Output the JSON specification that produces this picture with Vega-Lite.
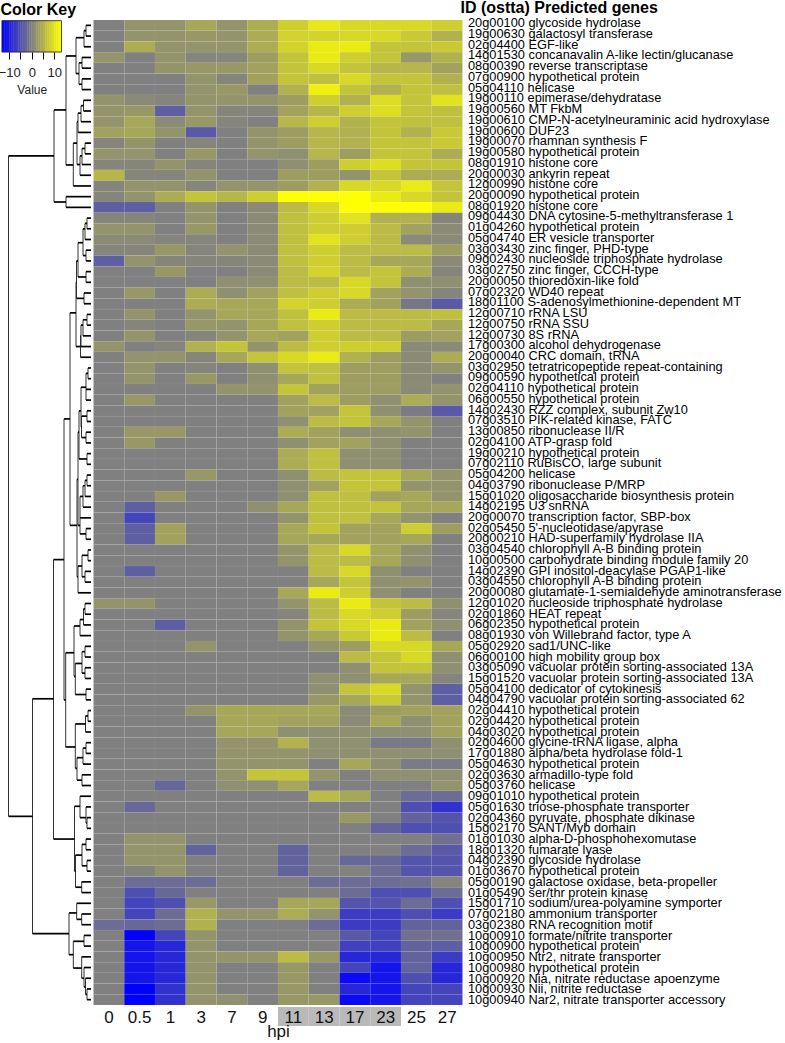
{"$schema":"https://vega.github.io/schema/vega-lite/v6.json","width":785,"height":1043,"padding":0,"autosize":{"type":"none"},"background":"white",
"config":{"font":"Liberation Sans","view":{"stroke":null}},
"datasets":{
"key":[{"a":-13.2,"b":-12,"v":-12.5},{"a":-12,"b":-11,"v":-11.5},{"a":-11,"b":-10,"v":-10.5},{"a":-10,"b":-9,"v":-9.5},{"a":-9,"b":-8,"v":-8.5},{"a":-8,"b":-7,"v":-7.5},{"a":-7,"b":-6,"v":-6.5},{"a":-6,"b":-5,"v":-5.5},{"a":-5,"b":-4,"v":-4.5},{"a":-4,"b":-3,"v":-3.5},{"a":-3,"b":-2,"v":-2.5},{"a":-2,"b":-1,"v":-1.5},{"a":-1,"b":0,"v":-0.5},{"a":0,"b":1,"v":0.5},{"a":1,"b":2,"v":1.5},{"a":2,"b":3,"v":2.5},{"a":3,"b":4,"v":3.5},{"a":4,"b":5,"v":4.5},{"a":5,"b":6,"v":5.5},{"a":6,"b":7,"v":6.5},{"a":7,"b":8,"v":7.5},{"a":8,"b":9,"v":8.5},{"a":9,"b":10,"v":9.5},{"a":10,"b":11,"v":10.5},{"a":11,"b":12,"v":11.5},{"a":12,"b":13.2,"v":12.5}],
"keyframe":[{"a":-13.2,"b":13.2}],
"hours":[{"h":"11"},{"h":"13"},{"h":"17"},{"h":"23"}],
"genes":[{"c":"genes","t":"20g00100 glycoside hydrolase"},{"c":"genes","t":"19g00630 galactosyl transferase"},{"c":"genes","t":"02g04400 EGF-like"},{"c":"genes","t":"14g01530 concanavalin A-like lectin/glucanase"},{"c":"genes","t":"08g00390 reverse transcriptase"},{"c":"genes","t":"07g00900 hypothetical protein"},{"c":"genes","t":"05g04110 helicase"},{"c":"genes","t":"19g00110 epimerase/dehydratase"},{"c":"genes","t":"19g00560 MT FkbM"},{"c":"genes","t":"19g00610 CMP-N-acetylneuraminic acid hydroxylase"},{"c":"genes","t":"19g00600 DUF23"},{"c":"genes","t":"19g00070 rhamnan synthesis F"},{"c":"genes","t":"19g00580 hypothetical protein"},{"c":"genes","t":"08g01910 histone core"},{"c":"genes","t":"20g00030 ankyrin repeat"},{"c":"genes","t":"12g00990 histone core"},{"c":"genes","t":"20g00090 hypothetical protein"},{"c":"genes","t":"08g01920 histone core"},{"c":"genes","t":"09g04430 DNA cytosine-5-methyltransferase 1"},{"c":"genes","t":"01g04260 hypothetical protein"},{"c":"genes","t":"05g04740 ER vesicle transporter"},{"c":"genes","t":"03g03430 zinc finger, PHD-type"},{"c":"genes","t":"09g02430 nucleoside triphosphate hydrolase"},{"c":"genes","t":"03g02750 zinc finger, CCCH-type"},{"c":"genes","t":"20g00050 thioredoxin-like fold"},{"c":"genes","t":"07g02320 WD40 repeat"},{"c":"genes","t":"18g01100 S-adenosylmethionine-dependent MT"},{"c":"genes","t":"12g00710 rRNA LSU"},{"c":"genes","t":"12g00750 rRNA SSU"},{"c":"genes","t":"12g00730 8S rRNA"},{"c":"genes","t":"17g00300 alcohol dehydrogenase"},{"c":"genes","t":"20g00040 CRC domain, tRNA"},{"c":"genes","t":"03g02950 tetratricopeptide repeat-containing"},{"c":"genes","t":"09g00590 hypothetical protein"},{"c":"genes","t":"02g04110 hypothetical protein"},{"c":"genes","t":"06g00550 hypothetical protein"},{"c":"genes","t":"14g02430 RZZ complex, subunit Zw10"},{"c":"genes","t":"07g03510 PIK-related kinase, FATC"},{"c":"genes","t":"13g00850 ribonuclease II/R"},{"c":"genes","t":"02g04100 ATP-grasp fold"},{"c":"genes","t":"19g00210 hypothetical protein"},{"c":"genes","t":"07g02110 RuBisCO, large subunit"},{"c":"genes","t":"05g04200 helicase"},{"c":"genes","t":"04g03790 ribonuclease P/MRP"},{"c":"genes","t":"15g01020 oligosaccharide biosynthesis protein"},{"c":"genes","t":"14g02195 U3 snRNA"},{"c":"genes","t":"20g00070 transcription factor, SBP-box"},{"c":"genes","t":"02g05450 5'-nucleotidase/apyrase"},{"c":"genes","t":"20g00210 HAD-superfamily hydrolase IIA"},{"c":"genes","t":"03g04540 chlorophyll A-B binding protein"},{"c":"genes","t":"10g00500 carbohydrate binding module family 20"},{"c":"genes","t":"14g02390 GPI inositol-deacylase PGAP1-like"},{"c":"genes","t":"03g04550 chlorophyll A-B binding protein"},{"c":"genes","t":"20g00080 glutamate-1-semialdehyde aminotransferase"},{"c":"genes","t":"12g01020 nucleoside triphosphate hydrolase"},{"c":"genes","t":"02g01860 HEAT repeat"},{"c":"genes","t":"06g02350 hypothetical protein"},{"c":"genes","t":"08g01930 von Willebrand factor, type A"},{"c":"genes","t":"05g02920 sad1/UNC-like"},{"c":"genes","t":"06g00100 high mobility group box"},{"c":"genes","t":"03g05090 vacuolar protein sorting-associated 13A"},{"c":"genes","t":"15g01520 vacuolar protein sorting-associated 13A"},{"c":"genes","t":"05g04100 dedicator of cytokinesis"},{"c":"genes","t":"04g04790 vacuolar protein sorting-associated 62"},{"c":"genes","t":"02g04410 hypothetical protein"},{"c":"genes","t":"02g04420 hypothetical protein"},{"c":"genes","t":"04g03020 hypothetical protein"},{"c":"genes","t":"02g04600 glycine-tRNA ligase, alpha"},{"c":"genes","t":"17g01880 alpha/beta hydrolase fold-1"},{"c":"genes","t":"05g04630 hypothetical protein"},{"c":"genes","t":"02g03630 armadillo-type fold"},{"c":"genes","t":"05g03760 helicase"},{"c":"genes","t":"09g01010 hypothetical protein"},{"c":"genes","t":"05g01630 triose-phosphate transporter"},{"c":"genes","t":"02g04360 pyruvate, phosphate dikinase"},{"c":"genes","t":"15g02170 SANT/Myb domain"},{"c":"genes","t":"01g01030 alpha-D-phosphohexomutase"},{"c":"genes","t":"18g01320 fumarate lyase"},{"c":"genes","t":"04g02390 glycoside hydrolase"},{"c":"genes","t":"01g03670 hypothetical protein"},{"c":"genes","t":"05g00190 galactose oxidase, beta-propeller"},{"c":"genes","t":"01g05490 ser/thr protein kinase"},{"c":"genes","t":"15g01710 sodium/urea-polyamine symporter"},{"c":"genes","t":"07g02180 ammonium transporter"},{"c":"genes","t":"03g02380 RNA recognition motif"},{"c":"genes","t":"10g00910 formate/nitrite transporter"},{"c":"genes","t":"10g00900 hypothetical protein"},{"c":"genes","t":"10g00950 Ntr2, nitrate transporter"},{"c":"genes","t":"10g00980 hypothetical protein"},{"c":"genes","t":"10g00920 Nia, nitrate reductase apoenzyme"},{"c":"genes","t":"10g00930 Nii, nitrite reductase"},{"c":"genes","t":"10g00940 Nar2, nitrate transporter accessory"}],
"vertical":[{"d":86,"a":1,"b":2},{"d":84,"a":1.5,"b":3},{"d":82,"a":4,"b":5},{"d":82,"a":6,"b":7},{"d":79,"a":4.5,"b":6.5},{"d":76,"a":2.15,"b":5.5},{"d":83.5,"a":8,"b":9},{"d":81,"a":8.5,"b":10},{"d":78,"a":9.2,"b":11},{"d":85,"a":12,"b":13},{"d":82,"a":12.5,"b":14},{"d":80,"a":13.2,"b":15},{"d":77,"a":10,"b":14},{"d":73.3,"a":12,"b":16},{"d":66,"a":3.86,"b":14.04},{"d":66,"a":17,"b":18},{"d":54,"a":8.9,"b":17.5},{"d":8.5,"a":13.2,"b":74.88},{"d":32.5,"a":63.9,"b":85.84},{"d":53.5,"a":50.9,"b":77},{"d":64,"a":37.76,"b":64},{"d":70,"a":27.85,"b":47.7},{"d":76,"a":25,"b":31},{"d":76.5,"a":23,"b":26.5},{"d":78,"a":21.3,"b":24.5},{"d":83,"a":20,"b":22.5},{"d":85,"a":19.5,"b":21},{"d":87,"a":19,"b":20},{"d":86,"a":22,"b":23},{"d":86,"a":24,"b":25},{"d":84,"a":26,"b":27},{"d":80.5,"a":30,"b":32},{"d":81,"a":29,"b":31},{"d":83,"a":28.5,"b":30},{"d":87,"a":28,"b":29},{"d":77,"a":43.4,"b":52.5},{"d":78,"a":39,"b":47.7},{"d":79,"a":37,"b":41.5},{"d":87,"a":41,"b":42},{"d":81,"a":34.8,"b":38.5},{"d":81.5,"a":37.5,"b":39.5},{"d":87,"a":37,"b":38},{"d":86,"a":39,"b":40},{"d":88,"a":33,"b":34},{"d":86,"a":33.5,"b":36},{"d":80,"a":45,"b":48.5},{"d":83,"a":44,"b":46},{"d":85,"a":43.5,"b":45},{"d":87,"a":43,"b":44},{"d":86,"a":48,"b":49},{"d":78,"a":51.5,"b":54},{"d":82,"a":50.5,"b":52.5},{"d":88,"a":50,"b":51},{"d":85,"a":52,"b":53},{"d":80,"a":56.5,"b":58},{"d":83.5,"a":55.5,"b":57},{"d":85,"a":55,"b":56},{"d":74,"a":57.1,"b":61.8},{"d":75.3,"a":60.6,"b":63.5},{"d":82,"a":59.5,"b":61.5},{"d":85,"a":59,"b":60},{"d":85,"a":61,"b":62},{"d":86,"a":63,"b":64},{"d":65.7,"a":59.6,"b":68.4},{"d":75.3,"a":66.25,"b":70.4},{"d":85.5,"a":65.5,"b":67},{"d":88,"a":65,"b":66},{"d":77,"a":69.4,"b":71.5},{"d":83,"a":68.5,"b":70},{"d":86,"a":68,"b":69},{"d":82,"a":71,"b":72},{"d":74.5,"a":73.94,"b":80},{"d":80,"a":73,"b":75},{"d":86,"a":74,"b":75.5},{"d":87,"a":75,"b":76},{"d":75.5,"a":78.5,"b":81.5},{"d":82,"a":77.5,"b":79.5},{"d":86,"a":77,"b":78},{"d":87,"a":79,"b":80},{"d":81.7,"a":81,"b":82},{"d":69,"a":83.9,"b":87.8},{"d":76.7,"a":83,"b":84.5},{"d":81.7,"a":84,"b":85},{"d":73.3,"a":86.55,"b":89.05},{"d":84,"a":86,"b":87},{"d":81.7,"a":88,"b":90},{"d":84,"a":89,"b":90.8},{"d":85.5,"a":90,"b":91.5},{"d":87,"a":91,"b":92}],
"horizontal":[{"a":84,"b":86,"r":1.5},{"a":76,"b":84,"r":2.15},{"a":79,"b":82,"r":4.5},{"a":79,"b":82,"r":6.5},{"a":76,"b":79,"r":5.5},{"a":66,"b":76,"r":3.86},{"a":81,"b":83.5,"r":8.5},{"a":78,"b":81,"r":9.2},{"a":77,"b":78,"r":10},{"a":82,"b":85,"r":12.5},{"a":80,"b":82,"r":13.2},{"a":77,"b":80,"r":14},{"a":73.3,"b":77,"r":12},{"a":66,"b":73.3,"r":14.04},{"a":54,"b":66,"r":8.9},{"a":54,"b":66,"r":17.5},{"a":8.5,"b":54,"r":13.2},{"a":8.5,"b":32.5,"r":74.88},{"a":32.5,"b":53.5,"r":63.9},{"a":32.5,"b":69,"r":85.84},{"a":53.5,"b":64,"r":50.9},{"a":53.5,"b":74.5,"r":77},{"a":64,"b":70,"r":37.76},{"a":64,"b":65.7,"r":64},{"a":70,"b":76,"r":27.85},{"a":70,"b":77,"r":47.7},{"a":76,"b":76.5,"r":25},{"a":76,"b":80.5,"r":31},{"a":76.5,"b":78,"r":23},{"a":76.5,"b":84,"r":26.5},{"a":78,"b":83,"r":21.3},{"a":78,"b":86,"r":24.5},{"a":83,"b":85,"r":20},{"a":83,"b":86,"r":22.5},{"a":85,"b":87,"r":19.5},{"a":80.5,"b":81,"r":30},{"a":81,"b":83,"r":29},{"a":83,"b":87,"r":28.5},{"a":77,"b":78,"r":43.4},{"a":77,"b":78,"r":52.5},{"a":78,"b":79,"r":39},{"a":78,"b":80,"r":47.7},{"a":79,"b":81,"r":37},{"a":79,"b":87,"r":41.5},{"a":81,"b":86,"r":34.8},{"a":81,"b":81.5,"r":38.5},{"a":81.5,"b":87,"r":37.5},{"a":81.5,"b":86,"r":39.5},{"a":86,"b":88,"r":33.5},{"a":80,"b":83,"r":45},{"a":80,"b":86,"r":48.5},{"a":83,"b":85,"r":44},{"a":85,"b":87,"r":43.5},{"a":78,"b":82,"r":51.5},{"a":82,"b":88,"r":50.5},{"a":82,"b":85,"r":52.5},{"a":80,"b":83.5,"r":56.5},{"a":83.5,"b":85,"r":55.5},{"a":74,"b":80,"r":57.1},{"a":74,"b":75.3,"r":61.8},{"a":75.3,"b":82,"r":60.6},{"a":75.3,"b":86,"r":63.5},{"a":82,"b":85,"r":59.5},{"a":82,"b":85,"r":61.5},{"a":65.7,"b":74,"r":59.6},{"a":65.7,"b":75.3,"r":68.4},{"a":75.3,"b":85.5,"r":66.25},{"a":75.3,"b":77,"r":70.4},{"a":85.5,"b":88,"r":65.5},{"a":77,"b":83,"r":69.4},{"a":77,"b":82,"r":71.5},{"a":83,"b":86,"r":68.5},{"a":74.5,"b":80,"r":73.94},{"a":74.5,"b":75.5,"r":80},{"a":80,"b":86,"r":75},{"a":86,"b":87,"r":75.5},{"a":75.5,"b":82,"r":78.5},{"a":75.5,"b":81.7,"r":81.5},{"a":82,"b":86,"r":77.5},{"a":82,"b":87,"r":79.5},{"a":69,"b":76.7,"r":83.9},{"a":69,"b":73.3,"r":87.8},{"a":76.7,"b":81.7,"r":84.5},{"a":73.3,"b":84,"r":86.55},{"a":73.3,"b":81.7,"r":89.05},{"a":81.7,"b":84,"r":90},{"a":84,"b":85.5,"r":90.8},{"a":85.5,"b":87,"r":91.5},
{"a":86,"b":91,"r":1},{"a":86,"b":91,"r":2},{"a":84,"b":91,"r":3},{"a":82,"b":91,"r":4},{"a":82,"b":91,"r":5},{"a":82,"b":91,"r":6},{"a":82,"b":91,"r":7},{"a":83.5,"b":91,"r":8},{"a":83.5,"b":91,"r":9},{"a":81,"b":91,"r":10},{"a":78,"b":91,"r":11},{"a":85,"b":91,"r":12},{"a":85,"b":91,"r":13},{"a":82,"b":91,"r":14},{"a":80,"b":91,"r":15},{"a":73.3,"b":91,"r":16},{"a":66,"b":91,"r":17},{"a":66,"b":91,"r":18},{"a":87,"b":91,"r":19},{"a":87,"b":91,"r":20},{"a":85,"b":91,"r":21},{"a":86,"b":91,"r":22},{"a":86,"b":91,"r":23},{"a":86,"b":91,"r":24},{"a":86,"b":91,"r":25},{"a":84,"b":91,"r":26},{"a":84,"b":91,"r":27},{"a":87,"b":91,"r":28},{"a":87,"b":91,"r":29},{"a":83,"b":91,"r":30},{"a":81,"b":91,"r":31},{"a":80.5,"b":91,"r":32},{"a":88,"b":91,"r":33},{"a":88,"b":91,"r":34},{"a":86,"b":91,"r":35},{"a":86,"b":91,"r":36},{"a":87,"b":91,"r":37},{"a":87,"b":91,"r":38},{"a":86,"b":91,"r":39},{"a":86,"b":91,"r":40},{"a":87,"b":91,"r":41},{"a":87,"b":91,"r":42},{"a":87,"b":91,"r":43},{"a":87,"b":91,"r":44},{"a":85,"b":91,"r":45},{"a":83,"b":91,"r":46},{"a":80,"b":91,"r":47},{"a":86,"b":91,"r":48},{"a":86,"b":91,"r":49},{"a":88,"b":91,"r":50},{"a":88,"b":91,"r":51},{"a":85,"b":91,"r":52},{"a":85,"b":91,"r":53},{"a":78,"b":91,"r":54},{"a":85,"b":91,"r":55},{"a":85,"b":91,"r":56},{"a":83.5,"b":91,"r":57},{"a":80,"b":91,"r":58},{"a":85,"b":91,"r":59},{"a":85,"b":91,"r":60},{"a":85,"b":91,"r":61},{"a":85,"b":91,"r":62},{"a":86,"b":91,"r":63},{"a":86,"b":91,"r":64},{"a":88,"b":91,"r":65},{"a":88,"b":91,"r":66},{"a":85.5,"b":91,"r":67},{"a":86,"b":91,"r":68},{"a":86,"b":91,"r":69},{"a":83,"b":91,"r":70},{"a":82,"b":91,"r":71},{"a":82,"b":91,"r":72},{"a":80,"b":91,"r":73},{"a":86,"b":91,"r":74},{"a":87,"b":91,"r":75},{"a":87,"b":91,"r":76},{"a":86,"b":91,"r":77},{"a":86,"b":91,"r":78},{"a":87,"b":91,"r":79},{"a":87,"b":91,"r":80},{"a":81.7,"b":91,"r":81},{"a":81.7,"b":91,"r":82},{"a":76.7,"b":91,"r":83},{"a":81.7,"b":91,"r":84},{"a":81.7,"b":91,"r":85},{"a":84,"b":91,"r":86},{"a":84,"b":91,"r":87},{"a":81.7,"b":91,"r":88},{"a":84,"b":91,"r":89},{"a":85.5,"b":91,"r":90},{"a":87,"b":91,"r":91},{"a":87,"b":91,"r":92}],
"cells":[
{"r":1,"h":"0","v":0},{"r":1,"h":"0.5","v":2},{"r":1,"h":"1","v":2},{"r":1,"h":"3","v":4},{"r":1,"h":"7","v":2},{"r":1,"h":"9","v":4.5},{"r":1,"h":"11","v":8},{"r":1,"h":"13","v":10.5},{"r":1,"h":"17","v":9},{"r":1,"h":"23","v":9},{"r":1,"h":"25","v":9},{"r":1,"h":"27","v":8},
{"r":2,"h":"0","v":0},{"r":2,"h":"0.5","v":2},{"r":2,"h":"1","v":2},{"r":2,"h":"3","v":2.5},{"r":2,"h":"7","v":2},{"r":2,"h":"9","v":4.5},{"r":2,"h":"11","v":8.5},{"r":2,"h":"13","v":8.5},{"r":2,"h":"17","v":9},{"r":2,"h":"23","v":9},{"r":2,"h":"25","v":7.5},{"r":2,"h":"27","v":5},
{"r":3,"h":"0","v":0},{"r":3,"h":"0.5","v":4.5},{"r":3,"h":"1","v":2},{"r":3,"h":"3","v":2},{"r":3,"h":"7","v":2},{"r":3,"h":"9","v":4.5},{"r":3,"h":"11","v":8.5},{"r":3,"h":"13","v":11},{"r":3,"h":"17","v":11},{"r":3,"h":"23","v":7},{"r":3,"h":"25","v":7},{"r":3,"h":"27","v":7.5},
{"r":4,"h":"0","v":2},{"r":4,"h":"0.5","v":0},{"r":4,"h":"1","v":2},{"r":4,"h":"3","v":0.5},{"r":4,"h":"7","v":0.5},{"r":4,"h":"9","v":3},{"r":4,"h":"11","v":7},{"r":4,"h":"13","v":11},{"r":4,"h":"17","v":8},{"r":4,"h":"23","v":7},{"r":4,"h":"25","v":2.5},{"r":4,"h":"27","v":5},
{"r":5,"h":"0","v":0},{"r":5,"h":"0.5","v":0},{"r":5,"h":"1","v":2},{"r":5,"h":"3","v":2.5},{"r":5,"h":"7","v":2.5},{"r":5,"h":"9","v":3.5},{"r":5,"h":"11","v":7},{"r":5,"h":"13","v":9},{"r":5,"h":"17","v":7},{"r":5,"h":"23","v":5.5},{"r":5,"h":"25","v":5.5},{"r":5,"h":"27","v":3.5},
{"r":6,"h":"0","v":0},{"r":6,"h":"0.5","v":0},{"r":6,"h":"1","v":0},{"r":6,"h":"3","v":2},{"r":6,"h":"7","v":0.5},{"r":6,"h":"9","v":3.5},{"r":6,"h":"11","v":7},{"r":6,"h":"13","v":6.5},{"r":6,"h":"17","v":9},{"r":6,"h":"23","v":7},{"r":6,"h":"25","v":7},{"r":6,"h":"27","v":5},
{"r":7,"h":"0","v":0},{"r":7,"h":"0.5","v":0},{"r":7,"h":"1","v":0},{"r":7,"h":"3","v":2},{"r":7,"h":"7","v":2.5},{"r":7,"h":"9","v":0},{"r":7,"h":"11","v":5},{"r":7,"h":"13","v":11.5},{"r":7,"h":"17","v":7},{"r":7,"h":"23","v":5},{"r":7,"h":"25","v":7},{"r":7,"h":"27","v":6.5},
{"r":8,"h":"0","v":2},{"r":8,"h":"0.5","v":1},{"r":8,"h":"1","v":0.5},{"r":8,"h":"3","v":2},{"r":8,"h":"7","v":2},{"r":8,"h":"9","v":2},{"r":8,"h":"11","v":3},{"r":8,"h":"13","v":8},{"r":8,"h":"17","v":5},{"r":8,"h":"23","v":9.5},{"r":8,"h":"25","v":7},{"r":8,"h":"27","v":10},
{"r":9,"h":"0","v":2},{"r":9,"h":"0.5","v":2.5},{"r":9,"h":"1","v":-3.5},{"r":9,"h":"3","v":2},{"r":9,"h":"7","v":0.5},{"r":9,"h":"9","v":0.5},{"r":9,"h":"11","v":3.5},{"r":9,"h":"13","v":5.5},{"r":9,"h":"17","v":8},{"r":9,"h":"23","v":9.5},{"r":9,"h":"25","v":7},{"r":9,"h":"27","v":6.5},
{"r":10,"h":"0","v":2},{"r":10,"h":"0.5","v":4},{"r":10,"h":"1","v":1},{"r":10,"h":"3","v":2.5},{"r":10,"h":"7","v":0.5},{"r":10,"h":"9","v":0},{"r":10,"h":"11","v":5.5},{"r":10,"h":"13","v":8},{"r":10,"h":"17","v":5},{"r":10,"h":"23","v":7},{"r":10,"h":"25","v":6.5},{"r":10,"h":"27","v":6.5},
{"r":11,"h":"0","v":3.5},{"r":11,"h":"0.5","v":4},{"r":11,"h":"1","v":2},{"r":11,"h":"3","v":-4},{"r":11,"h":"7","v":0},{"r":11,"h":"9","v":2},{"r":11,"h":"11","v":3},{"r":11,"h":"13","v":5.5},{"r":11,"h":"17","v":5},{"r":11,"h":"23","v":7},{"r":11,"h":"25","v":5},{"r":11,"h":"27","v":7.5},
{"r":12,"h":"0","v":0.5},{"r":12,"h":"0.5","v":2},{"r":12,"h":"1","v":0},{"r":12,"h":"3","v":0.5},{"r":12,"h":"7","v":0},{"r":12,"h":"9","v":2},{"r":12,"h":"11","v":3},{"r":12,"h":"13","v":5.5},{"r":12,"h":"17","v":5},{"r":12,"h":"23","v":7},{"r":12,"h":"25","v":7},{"r":12,"h":"27","v":7.5},
{"r":13,"h":"0","v":2},{"r":13,"h":"0.5","v":2},{"r":13,"h":"1","v":0},{"r":13,"h":"3","v":2.5},{"r":13,"h":"7","v":0},{"r":13,"h":"9","v":2},{"r":13,"h":"11","v":1.5},{"r":13,"h":"13","v":5.5},{"r":13,"h":"17","v":3},{"r":13,"h":"23","v":7},{"r":13,"h":"25","v":7},{"r":13,"h":"27","v":4.5},
{"r":14,"h":"0","v":0.5},{"r":14,"h":"0.5","v":0.5},{"r":14,"h":"1","v":2},{"r":14,"h":"3","v":0.5},{"r":14,"h":"7","v":0},{"r":14,"h":"9","v":0},{"r":14,"h":"11","v":1.5},{"r":14,"h":"13","v":3},{"r":14,"h":"17","v":8},{"r":14,"h":"23","v":9.5},{"r":14,"h":"25","v":7},{"r":14,"h":"27","v":7},
{"r":15,"h":"0","v":5.5},{"r":15,"h":"0.5","v":0.5},{"r":15,"h":"1","v":0.5},{"r":15,"h":"3","v":2},{"r":15,"h":"7","v":0},{"r":15,"h":"9","v":0},{"r":15,"h":"11","v":3},{"r":15,"h":"13","v":3},{"r":15,"h":"17","v":2},{"r":15,"h":"23","v":7},{"r":15,"h":"25","v":4.5},{"r":15,"h":"27","v":4.5},
{"r":16,"h":"0","v":0.5},{"r":16,"h":"0.5","v":2},{"r":16,"h":"1","v":2},{"r":16,"h":"3","v":0.5},{"r":16,"h":"7","v":2},{"r":16,"h":"9","v":2},{"r":16,"h":"11","v":3},{"r":16,"h":"13","v":5},{"r":16,"h":"17","v":9},{"r":16,"h":"23","v":9},{"r":16,"h":"25","v":11},{"r":16,"h":"27","v":7},
{"r":17,"h":"0","v":0.5},{"r":17,"h":"0.5","v":2},{"r":17,"h":"1","v":4.5},{"r":17,"h":"3","v":7},{"r":17,"h":"7","v":5.5},{"r":17,"h":"9","v":8},{"r":17,"h":"11","v":13},{"r":17,"h":"13","v":13},{"r":17,"h":"17","v":13},{"r":17,"h":"23","v":11},{"r":17,"h":"25","v":9},{"r":17,"h":"27","v":7},
{"r":18,"h":"0","v":-3.5},{"r":18,"h":"0.5","v":-3.5},{"r":18,"h":"1","v":0},{"r":18,"h":"3","v":2},{"r":18,"h":"7","v":0},{"r":18,"h":"9","v":1},{"r":18,"h":"11","v":6},{"r":18,"h":"13","v":9},{"r":18,"h":"17","v":13},{"r":18,"h":"23","v":13},{"r":18,"h":"25","v":13},{"r":18,"h":"27","v":11},
{"r":19,"h":"0","v":0.5},{"r":19,"h":"0.5","v":0.5},{"r":19,"h":"1","v":0},{"r":19,"h":"3","v":2},{"r":19,"h":"7","v":0},{"r":19,"h":"9","v":1},{"r":19,"h":"11","v":6.5},{"r":19,"h":"13","v":8},{"r":19,"h":"17","v":10},{"r":19,"h":"23","v":5},{"r":19,"h":"25","v":5},{"r":19,"h":"27","v":0.5},
{"r":20,"h":"0","v":2},{"r":20,"h":"0.5","v":2},{"r":20,"h":"1","v":0},{"r":20,"h":"3","v":2.5},{"r":20,"h":"7","v":0},{"r":20,"h":"9","v":1},{"r":20,"h":"11","v":6.5},{"r":20,"h":"13","v":8},{"r":20,"h":"17","v":8},{"r":20,"h":"23","v":6},{"r":20,"h":"25","v":3.5},{"r":20,"h":"27","v":1},
{"r":21,"h":"0","v":1},{"r":21,"h":"0.5","v":1},{"r":21,"h":"1","v":0.5},{"r":21,"h":"3","v":0.5},{"r":21,"h":"7","v":0},{"r":21,"h":"9","v":1},{"r":21,"h":"11","v":6.5},{"r":21,"h":"13","v":10},{"r":21,"h":"17","v":8},{"r":21,"h":"23","v":6},{"r":21,"h":"25","v":1},{"r":21,"h":"27","v":1},
{"r":22,"h":"0","v":0.5},{"r":22,"h":"0.5","v":0.5},{"r":22,"h":"1","v":2.5},{"r":22,"h":"3","v":0.5},{"r":22,"h":"7","v":2},{"r":22,"h":"9","v":1},{"r":22,"h":"11","v":6.5},{"r":22,"h":"13","v":8},{"r":22,"h":"17","v":6},{"r":22,"h":"23","v":6},{"r":22,"h":"25","v":6},{"r":22,"h":"27","v":3},
{"r":23,"h":"0","v":-3.5},{"r":23,"h":"0.5","v":2},{"r":23,"h":"1","v":0.5},{"r":23,"h":"3","v":0.5},{"r":23,"h":"7","v":0.5},{"r":23,"h":"9","v":1},{"r":23,"h":"11","v":6.5},{"r":23,"h":"13","v":8},{"r":23,"h":"17","v":6},{"r":23,"h":"23","v":4},{"r":23,"h":"25","v":4},{"r":23,"h":"27","v":1},
{"r":24,"h":"0","v":0},{"r":24,"h":"0.5","v":0},{"r":24,"h":"1","v":2.5},{"r":24,"h":"3","v":0},{"r":24,"h":"7","v":0},{"r":24,"h":"9","v":1},{"r":24,"h":"11","v":6},{"r":24,"h":"13","v":8.5},{"r":24,"h":"17","v":6},{"r":24,"h":"23","v":7},{"r":24,"h":"25","v":4.5},{"r":24,"h":"27","v":0.5},
{"r":25,"h":"0","v":0},{"r":25,"h":"0.5","v":0},{"r":25,"h":"1","v":0},{"r":25,"h":"3","v":0},{"r":25,"h":"7","v":1.5},{"r":25,"h":"9","v":1.5},{"r":25,"h":"11","v":6},{"r":25,"h":"13","v":6},{"r":25,"h":"17","v":9},{"r":25,"h":"23","v":7},{"r":25,"h":"25","v":1.5},{"r":25,"h":"27","v":1.5},
{"r":26,"h":"0","v":0},{"r":26,"h":"0.5","v":2.5},{"r":26,"h":"1","v":0},{"r":26,"h":"3","v":4.5},{"r":26,"h":"7","v":1.5},{"r":26,"h":"9","v":3.5},{"r":26,"h":"11","v":6.5},{"r":26,"h":"13","v":8},{"r":26,"h":"17","v":9},{"r":26,"h":"23","v":3.5},{"r":26,"h":"25","v":2},{"r":26,"h":"27","v":0.5},
{"r":27,"h":"0","v":0},{"r":27,"h":"0.5","v":0},{"r":27,"h":"1","v":0},{"r":27,"h":"3","v":4.5},{"r":27,"h":"7","v":4},{"r":27,"h":"9","v":4},{"r":27,"h":"11","v":8.5},{"r":27,"h":"13","v":8},{"r":27,"h":"17","v":4.5},{"r":27,"h":"23","v":3.5},{"r":27,"h":"25","v":-1},{"r":27,"h":"27","v":-4},
{"r":28,"h":"0","v":0},{"r":28,"h":"0.5","v":2},{"r":28,"h":"1","v":0},{"r":28,"h":"3","v":2},{"r":28,"h":"7","v":4},{"r":28,"h":"9","v":4},{"r":28,"h":"11","v":6.5},{"r":28,"h":"13","v":11},{"r":28,"h":"17","v":6},{"r":28,"h":"23","v":6},{"r":28,"h":"25","v":6},{"r":28,"h":"27","v":6.5},
{"r":29,"h":"0","v":0},{"r":29,"h":"0.5","v":0.5},{"r":29,"h":"1","v":0},{"r":29,"h":"3","v":2.5},{"r":29,"h":"7","v":2},{"r":29,"h":"9","v":4},{"r":29,"h":"11","v":6.5},{"r":29,"h":"13","v":8},{"r":29,"h":"17","v":6},{"r":29,"h":"23","v":6},{"r":29,"h":"25","v":6},{"r":29,"h":"27","v":4},
{"r":30,"h":"0","v":0},{"r":30,"h":"0.5","v":2},{"r":30,"h":"1","v":0},{"r":30,"h":"3","v":0.5},{"r":30,"h":"7","v":2},{"r":30,"h":"9","v":4},{"r":30,"h":"11","v":3.5},{"r":30,"h":"13","v":8},{"r":30,"h":"17","v":6},{"r":30,"h":"23","v":6},{"r":30,"h":"25","v":3},{"r":30,"h":"27","v":3.5},
{"r":31,"h":"0","v":2},{"r":31,"h":"0.5","v":0},{"r":31,"h":"1","v":0.5},{"r":31,"h":"3","v":5},{"r":31,"h":"7","v":7},{"r":31,"h":"9","v":2},{"r":31,"h":"11","v":6},{"r":31,"h":"13","v":8},{"r":31,"h":"17","v":8},{"r":31,"h":"23","v":8},{"r":31,"h":"25","v":1},{"r":31,"h":"27","v":1},
{"r":32,"h":"0","v":0},{"r":32,"h":"0.5","v":2},{"r":32,"h":"1","v":2},{"r":32,"h":"3","v":0.5},{"r":32,"h":"7","v":4},{"r":32,"h":"9","v":7},{"r":32,"h":"11","v":9},{"r":32,"h":"13","v":11},{"r":32,"h":"17","v":5},{"r":32,"h":"23","v":3},{"r":32,"h":"25","v":1},{"r":32,"h":"27","v":4.5},
{"r":33,"h":"0","v":0},{"r":33,"h":"0.5","v":2},{"r":33,"h":"1","v":0},{"r":33,"h":"3","v":0.5},{"r":33,"h":"7","v":0},{"r":33,"h":"9","v":1.5},{"r":33,"h":"11","v":7},{"r":33,"h":"13","v":6.5},{"r":33,"h":"17","v":3},{"r":33,"h":"23","v":3},{"r":33,"h":"25","v":1},{"r":33,"h":"27","v":2},
{"r":34,"h":"0","v":0},{"r":34,"h":"0.5","v":2},{"r":34,"h":"1","v":0},{"r":34,"h":"3","v":2.5},{"r":34,"h":"7","v":0},{"r":34,"h":"9","v":1.5},{"r":34,"h":"11","v":4},{"r":34,"h":"13","v":6.5},{"r":34,"h":"17","v":3},{"r":34,"h":"23","v":3},{"r":34,"h":"25","v":1},{"r":34,"h":"27","v":0},
{"r":35,"h":"0","v":0},{"r":35,"h":"0.5","v":0},{"r":35,"h":"1","v":0},{"r":35,"h":"3","v":0},{"r":35,"h":"7","v":2},{"r":35,"h":"9","v":2},{"r":35,"h":"11","v":7},{"r":35,"h":"13","v":3.5},{"r":35,"h":"17","v":3},{"r":35,"h":"23","v":3},{"r":35,"h":"25","v":1},{"r":35,"h":"27","v":2},
{"r":36,"h":"0","v":0},{"r":36,"h":"0.5","v":2.5},{"r":36,"h":"1","v":0},{"r":36,"h":"3","v":0},{"r":36,"h":"7","v":0},{"r":36,"h":"9","v":0},{"r":36,"h":"11","v":3.5},{"r":36,"h":"13","v":6},{"r":36,"h":"17","v":3},{"r":36,"h":"23","v":1.5},{"r":36,"h":"25","v":4.5},{"r":36,"h":"27","v":2},
{"r":37,"h":"0","v":0},{"r":37,"h":"0.5","v":0},{"r":37,"h":"1","v":0},{"r":37,"h":"3","v":0},{"r":37,"h":"7","v":0},{"r":37,"h":"9","v":0},{"r":37,"h":"11","v":3.5},{"r":37,"h":"13","v":3.5},{"r":37,"h":"17","v":7},{"r":37,"h":"23","v":1.5},{"r":37,"h":"25","v":-0.5},{"r":37,"h":"27","v":-4},
{"r":38,"h":"0","v":0},{"r":38,"h":"0.5","v":0},{"r":38,"h":"1","v":0},{"r":38,"h":"3","v":0},{"r":38,"h":"7","v":0},{"r":38,"h":"9","v":0},{"r":38,"h":"11","v":1.5},{"r":38,"h":"13","v":6},{"r":38,"h":"17","v":7},{"r":38,"h":"23","v":4},{"r":38,"h":"25","v":2},{"r":38,"h":"27","v":0},
{"r":39,"h":"0","v":0},{"r":39,"h":"0.5","v":2.5},{"r":39,"h":"1","v":2.5},{"r":39,"h":"3","v":0},{"r":39,"h":"7","v":0},{"r":39,"h":"9","v":0},{"r":39,"h":"11","v":4.5},{"r":39,"h":"13","v":3.5},{"r":39,"h":"17","v":1.5},{"r":39,"h":"23","v":1.5},{"r":39,"h":"25","v":2},{"r":39,"h":"27","v":0},
{"r":40,"h":"0","v":0},{"r":40,"h":"0.5","v":2.5},{"r":40,"h":"1","v":0},{"r":40,"h":"3","v":0},{"r":40,"h":"7","v":0},{"r":40,"h":"9","v":0},{"r":40,"h":"11","v":1.5},{"r":40,"h":"13","v":3.5},{"r":40,"h":"17","v":3.5},{"r":40,"h":"23","v":1.5},{"r":40,"h":"25","v":0},{"r":40,"h":"27","v":0},
{"r":41,"h":"0","v":0},{"r":41,"h":"0.5","v":0},{"r":41,"h":"1","v":0},{"r":41,"h":"3","v":0},{"r":41,"h":"7","v":0},{"r":41,"h":"9","v":0},{"r":41,"h":"11","v":4.5},{"r":41,"h":"13","v":6.5},{"r":41,"h":"17","v":1.5},{"r":41,"h":"23","v":1.5},{"r":41,"h":"25","v":0},{"r":41,"h":"27","v":0},
{"r":42,"h":"0","v":0},{"r":42,"h":"0.5","v":0},{"r":42,"h":"1","v":0},{"r":42,"h":"3","v":0},{"r":42,"h":"7","v":0},{"r":42,"h":"9","v":0},{"r":42,"h":"11","v":4.5},{"r":42,"h":"13","v":6.5},{"r":42,"h":"17","v":1.5},{"r":42,"h":"23","v":1.5},{"r":42,"h":"25","v":0},{"r":42,"h":"27","v":0},
{"r":43,"h":"0","v":0},{"r":43,"h":"0.5","v":0},{"r":43,"h":"1","v":0},{"r":43,"h":"3","v":2.5},{"r":43,"h":"7","v":0},{"r":43,"h":"9","v":0},{"r":43,"h":"11","v":1.5},{"r":43,"h":"13","v":6},{"r":43,"h":"17","v":7},{"r":43,"h":"23","v":7},{"r":43,"h":"25","v":4},{"r":43,"h":"27","v":2},
{"r":44,"h":"0","v":0},{"r":44,"h":"0.5","v":0},{"r":44,"h":"1","v":0},{"r":44,"h":"3","v":0},{"r":44,"h":"7","v":0},{"r":44,"h":"9","v":0},{"r":44,"h":"11","v":1.5},{"r":44,"h":"13","v":3.5},{"r":44,"h":"17","v":7},{"r":44,"h":"23","v":7},{"r":44,"h":"25","v":2},{"r":44,"h":"27","v":2},
{"r":45,"h":"0","v":0},{"r":45,"h":"0.5","v":0},{"r":45,"h":"1","v":2.5},{"r":45,"h":"3","v":0},{"r":45,"h":"7","v":0},{"r":45,"h":"9","v":0},{"r":45,"h":"11","v":1.5},{"r":45,"h":"13","v":6.5},{"r":45,"h":"17","v":6.5},{"r":45,"h":"23","v":3.5},{"r":45,"h":"25","v":4},{"r":45,"h":"27","v":2},
{"r":46,"h":"0","v":0},{"r":46,"h":"0.5","v":-3.5},{"r":46,"h":"1","v":0},{"r":46,"h":"3","v":0},{"r":46,"h":"7","v":0},{"r":46,"h":"9","v":1.5},{"r":46,"h":"11","v":4},{"r":46,"h":"13","v":6.5},{"r":46,"h":"17","v":6.5},{"r":46,"h":"23","v":7},{"r":46,"h":"25","v":4},{"r":46,"h":"27","v":4},
{"r":47,"h":"0","v":0},{"r":47,"h":"0.5","v":-6},{"r":47,"h":"1","v":0},{"r":47,"h":"3","v":0},{"r":47,"h":"7","v":0},{"r":47,"h":"9","v":0},{"r":47,"h":"11","v":2},{"r":47,"h":"13","v":6.5},{"r":47,"h":"17","v":6.5},{"r":47,"h":"23","v":4},{"r":47,"h":"25","v":2},{"r":47,"h":"27","v":0},
{"r":48,"h":"0","v":0},{"r":48,"h":"0.5","v":-3.5},{"r":48,"h":"1","v":3.5},{"r":48,"h":"3","v":0},{"r":48,"h":"7","v":0},{"r":48,"h":"9","v":0},{"r":48,"h":"11","v":4},{"r":48,"h":"13","v":7},{"r":48,"h":"17","v":3.5},{"r":48,"h":"23","v":3.5},{"r":48,"h":"25","v":8},{"r":48,"h":"27","v":3},
{"r":49,"h":"0","v":0},{"r":49,"h":"0.5","v":-3.5},{"r":49,"h":"1","v":3.5},{"r":49,"h":"3","v":0},{"r":49,"h":"7","v":0},{"r":49,"h":"9","v":0},{"r":49,"h":"11","v":4},{"r":49,"h":"13","v":4},{"r":49,"h":"17","v":3.5},{"r":49,"h":"23","v":3.5},{"r":49,"h":"25","v":4},{"r":49,"h":"27","v":0},
{"r":50,"h":"0","v":0},{"r":50,"h":"0.5","v":0},{"r":50,"h":"1","v":0},{"r":50,"h":"3","v":0},{"r":50,"h":"7","v":0},{"r":50,"h":"9","v":0},{"r":50,"h":"11","v":2},{"r":50,"h":"13","v":6},{"r":50,"h":"17","v":9},{"r":50,"h":"23","v":4},{"r":50,"h":"25","v":1.5},{"r":50,"h":"27","v":0},
{"r":51,"h":"0","v":0},{"r":51,"h":"0.5","v":0},{"r":51,"h":"1","v":0},{"r":51,"h":"3","v":0},{"r":51,"h":"7","v":0},{"r":51,"h":"9","v":0},{"r":51,"h":"11","v":2},{"r":51,"h":"13","v":6},{"r":51,"h":"17","v":6},{"r":51,"h":"23","v":4},{"r":51,"h":"25","v":1.5},{"r":51,"h":"27","v":0},
{"r":52,"h":"0","v":0},{"r":52,"h":"0.5","v":-3.5},{"r":52,"h":"1","v":0},{"r":52,"h":"3","v":0},{"r":52,"h":"7","v":0},{"r":52,"h":"9","v":0},{"r":52,"h":"11","v":0},{"r":52,"h":"13","v":6},{"r":52,"h":"17","v":9},{"r":52,"h":"23","v":1.5},{"r":52,"h":"25","v":0},{"r":52,"h":"27","v":0},
{"r":53,"h":"0","v":0},{"r":53,"h":"0.5","v":0},{"r":53,"h":"1","v":0},{"r":53,"h":"3","v":0},{"r":53,"h":"7","v":0},{"r":53,"h":"9","v":0},{"r":53,"h":"11","v":0},{"r":53,"h":"13","v":4},{"r":53,"h":"17","v":7},{"r":53,"h":"23","v":1.5},{"r":53,"h":"25","v":2},{"r":53,"h":"27","v":0},
{"r":54,"h":"0","v":0},{"r":54,"h":"0.5","v":0},{"r":54,"h":"1","v":0},{"r":54,"h":"3","v":0},{"r":54,"h":"7","v":0},{"r":54,"h":"9","v":0},{"r":54,"h":"11","v":4},{"r":54,"h":"13","v":11},{"r":54,"h":"17","v":8},{"r":54,"h":"23","v":1.5},{"r":54,"h":"25","v":0},{"r":54,"h":"27","v":0},
{"r":55,"h":"0","v":2},{"r":55,"h":"0.5","v":2},{"r":55,"h":"1","v":0},{"r":55,"h":"3","v":0},{"r":55,"h":"7","v":0},{"r":55,"h":"9","v":0},{"r":55,"h":"11","v":2},{"r":55,"h":"13","v":6},{"r":55,"h":"17","v":11},{"r":55,"h":"23","v":7},{"r":55,"h":"25","v":6},{"r":55,"h":"27","v":1.5},
{"r":56,"h":"0","v":0},{"r":56,"h":"0.5","v":0},{"r":56,"h":"1","v":0},{"r":56,"h":"3","v":0},{"r":56,"h":"7","v":0},{"r":56,"h":"9","v":0},{"r":56,"h":"11","v":0.5},{"r":56,"h":"13","v":6},{"r":56,"h":"17","v":9},{"r":56,"h":"23","v":8},{"r":56,"h":"25","v":3},{"r":56,"h":"27","v":0.5},
{"r":57,"h":"0","v":0},{"r":57,"h":"0.5","v":0},{"r":57,"h":"1","v":-3.5},{"r":57,"h":"3","v":0},{"r":57,"h":"7","v":0},{"r":57,"h":"9","v":0},{"r":57,"h":"11","v":2},{"r":57,"h":"13","v":7},{"r":57,"h":"17","v":9},{"r":57,"h":"23","v":11},{"r":57,"h":"25","v":3.5},{"r":57,"h":"27","v":1.5},
{"r":58,"h":"0","v":0},{"r":58,"h":"0.5","v":0},{"r":58,"h":"1","v":0},{"r":58,"h":"3","v":0},{"r":58,"h":"7","v":0},{"r":58,"h":"9","v":0},{"r":58,"h":"11","v":2},{"r":58,"h":"13","v":4},{"r":58,"h":"17","v":7.5},{"r":58,"h":"23","v":11},{"r":58,"h":"25","v":6},{"r":58,"h":"27","v":0},
{"r":59,"h":"0","v":0},{"r":59,"h":"0.5","v":0},{"r":59,"h":"1","v":0},{"r":59,"h":"3","v":2},{"r":59,"h":"7","v":0},{"r":59,"h":"9","v":0},{"r":59,"h":"11","v":0},{"r":59,"h":"13","v":2},{"r":59,"h":"17","v":3},{"r":59,"h":"23","v":9},{"r":59,"h":"25","v":9},{"r":59,"h":"27","v":4},
{"r":60,"h":"0","v":0},{"r":60,"h":"0.5","v":0},{"r":60,"h":"1","v":0},{"r":60,"h":"3","v":0},{"r":60,"h":"7","v":0},{"r":60,"h":"9","v":0},{"r":60,"h":"11","v":0},{"r":60,"h":"13","v":0},{"r":60,"h":"17","v":6},{"r":60,"h":"23","v":7},{"r":60,"h":"25","v":9},{"r":60,"h":"27","v":1.5},
{"r":61,"h":"0","v":0},{"r":61,"h":"0.5","v":0},{"r":61,"h":"1","v":0},{"r":61,"h":"3","v":0},{"r":61,"h":"7","v":0},{"r":61,"h":"9","v":0},{"r":61,"h":"11","v":0},{"r":61,"h":"13","v":0},{"r":61,"h":"17","v":1.5},{"r":61,"h":"23","v":7},{"r":61,"h":"25","v":7},{"r":61,"h":"27","v":1.5},
{"r":62,"h":"0","v":0},{"r":62,"h":"0.5","v":0},{"r":62,"h":"1","v":0},{"r":62,"h":"3","v":0},{"r":62,"h":"7","v":0},{"r":62,"h":"9","v":0},{"r":62,"h":"11","v":0},{"r":62,"h":"13","v":1.5},{"r":62,"h":"17","v":1.5},{"r":62,"h":"23","v":4},{"r":62,"h":"25","v":4},{"r":62,"h":"27","v":0.5},
{"r":63,"h":"0","v":0},{"r":63,"h":"0.5","v":0},{"r":63,"h":"1","v":0},{"r":63,"h":"3","v":0},{"r":63,"h":"7","v":0},{"r":63,"h":"9","v":0},{"r":63,"h":"11","v":0},{"r":63,"h":"13","v":1.5},{"r":63,"h":"17","v":7},{"r":63,"h":"23","v":9},{"r":63,"h":"25","v":2},{"r":63,"h":"27","v":-3.5},
{"r":64,"h":"0","v":0},{"r":64,"h":"0.5","v":0},{"r":64,"h":"1","v":0},{"r":64,"h":"3","v":0},{"r":64,"h":"7","v":0},{"r":64,"h":"9","v":0},{"r":64,"h":"11","v":0},{"r":64,"h":"13","v":2.5},{"r":64,"h":"17","v":4},{"r":64,"h":"23","v":7.5},{"r":64,"h":"25","v":2},{"r":64,"h":"27","v":-3.5},
{"r":65,"h":"0","v":0},{"r":65,"h":"0.5","v":0},{"r":65,"h":"1","v":0},{"r":65,"h":"3","v":2},{"r":65,"h":"7","v":4},{"r":65,"h":"9","v":4},{"r":65,"h":"11","v":4},{"r":65,"h":"13","v":4},{"r":65,"h":"17","v":1},{"r":65,"h":"23","v":3},{"r":65,"h":"25","v":3.5},{"r":65,"h":"27","v":3.5},
{"r":66,"h":"0","v":0},{"r":66,"h":"0.5","v":0},{"r":66,"h":"1","v":0},{"r":66,"h":"3","v":0},{"r":66,"h":"7","v":4},{"r":66,"h":"9","v":4},{"r":66,"h":"11","v":3.5},{"r":66,"h":"13","v":3.5},{"r":66,"h":"17","v":1},{"r":66,"h":"23","v":4},{"r":66,"h":"25","v":1.5},{"r":66,"h":"27","v":3.5},
{"r":67,"h":"0","v":0},{"r":67,"h":"0.5","v":0},{"r":67,"h":"1","v":0},{"r":67,"h":"3","v":0},{"r":67,"h":"7","v":4},{"r":67,"h":"9","v":4},{"r":67,"h":"11","v":1.5},{"r":67,"h":"13","v":1.5},{"r":67,"h":"17","v":1.5},{"r":67,"h":"23","v":1.5},{"r":67,"h":"25","v":1.5},{"r":67,"h":"27","v":3.5},
{"r":68,"h":"0","v":0},{"r":68,"h":"0.5","v":0},{"r":68,"h":"1","v":0},{"r":68,"h":"3","v":0},{"r":68,"h":"7","v":2},{"r":68,"h":"9","v":2},{"r":68,"h":"11","v":5},{"r":68,"h":"13","v":1.5},{"r":68,"h":"17","v":1.5},{"r":68,"h":"23","v":-0.7},{"r":68,"h":"25","v":-0.7},{"r":68,"h":"27","v":1.5},
{"r":69,"h":"0","v":0},{"r":69,"h":"0.5","v":0},{"r":69,"h":"1","v":0},{"r":69,"h":"3","v":0},{"r":69,"h":"7","v":2},{"r":69,"h":"9","v":2},{"r":69,"h":"11","v":2},{"r":69,"h":"13","v":1.5},{"r":69,"h":"17","v":1.5},{"r":69,"h":"23","v":1.5},{"r":69,"h":"25","v":1.5},{"r":69,"h":"27","v":1.5},
{"r":70,"h":"0","v":0},{"r":70,"h":"0.5","v":0},{"r":70,"h":"1","v":0},{"r":70,"h":"3","v":0},{"r":70,"h":"7","v":2},{"r":70,"h":"9","v":2},{"r":70,"h":"11","v":2},{"r":70,"h":"13","v":0},{"r":70,"h":"17","v":4},{"r":70,"h":"23","v":1.5},{"r":70,"h":"25","v":-0.5},{"r":70,"h":"27","v":-0.5},
{"r":71,"h":"0","v":0},{"r":71,"h":"0.5","v":0},{"r":71,"h":"1","v":0},{"r":71,"h":"3","v":0},{"r":71,"h":"7","v":2},{"r":71,"h":"9","v":7},{"r":71,"h":"11","v":7},{"r":71,"h":"13","v":2},{"r":71,"h":"17","v":0},{"r":71,"h":"23","v":1.5},{"r":71,"h":"25","v":1.5},{"r":71,"h":"27","v":1.5},
{"r":72,"h":"0","v":0},{"r":72,"h":"0.5","v":0},{"r":72,"h":"1","v":-2.5},{"r":72,"h":"3","v":0},{"r":72,"h":"7","v":1.5},{"r":72,"h":"9","v":1.5},{"r":72,"h":"11","v":4},{"r":72,"h":"13","v":0},{"r":72,"h":"17","v":0},{"r":72,"h":"23","v":0},{"r":72,"h":"25","v":0},{"r":72,"h":"27","v":2},
{"r":73,"h":"0","v":0},{"r":73,"h":"0.5","v":0},{"r":73,"h":"1","v":0},{"r":73,"h":"3","v":0},{"r":73,"h":"7","v":0},{"r":73,"h":"9","v":0},{"r":73,"h":"11","v":0},{"r":73,"h":"13","v":6},{"r":73,"h":"17","v":4},{"r":73,"h":"23","v":0},{"r":73,"h":"25","v":-2},{"r":73,"h":"27","v":-2},
{"r":74,"h":"0","v":0},{"r":74,"h":"0.5","v":-2.5},{"r":74,"h":"1","v":0},{"r":74,"h":"3","v":0},{"r":74,"h":"7","v":0},{"r":74,"h":"9","v":0},{"r":74,"h":"11","v":0},{"r":74,"h":"13","v":0},{"r":74,"h":"17","v":0},{"r":74,"h":"23","v":0},{"r":74,"h":"25","v":-5},{"r":74,"h":"27","v":-8},
{"r":75,"h":"0","v":0},{"r":75,"h":"0.5","v":0},{"r":75,"h":"1","v":0},{"r":75,"h":"3","v":0},{"r":75,"h":"7","v":0},{"r":75,"h":"9","v":0},{"r":75,"h":"11","v":0},{"r":75,"h":"13","v":0},{"r":75,"h":"17","v":2.5},{"r":75,"h":"23","v":0},{"r":75,"h":"25","v":-3},{"r":75,"h":"27","v":-4.5},
{"r":76,"h":"0","v":0},{"r":76,"h":"0.5","v":0},{"r":76,"h":"1","v":0},{"r":76,"h":"3","v":0},{"r":76,"h":"7","v":0},{"r":76,"h":"9","v":0},{"r":76,"h":"11","v":0},{"r":76,"h":"13","v":0},{"r":76,"h":"17","v":0},{"r":76,"h":"23","v":-3},{"r":76,"h":"25","v":-5},{"r":76,"h":"27","v":-5},
{"r":77,"h":"0","v":0},{"r":77,"h":"0.5","v":2},{"r":77,"h":"1","v":2},{"r":77,"h":"3","v":0},{"r":77,"h":"7","v":0},{"r":77,"h":"9","v":0},{"r":77,"h":"11","v":0},{"r":77,"h":"13","v":0},{"r":77,"h":"17","v":0},{"r":77,"h":"23","v":0},{"r":77,"h":"25","v":0},{"r":77,"h":"27","v":-1.5},
{"r":78,"h":"0","v":0},{"r":78,"h":"0.5","v":2},{"r":78,"h":"1","v":2},{"r":78,"h":"3","v":-3},{"r":78,"h":"7","v":0},{"r":78,"h":"9","v":0},{"r":78,"h":"11","v":-3},{"r":78,"h":"13","v":0},{"r":78,"h":"17","v":0},{"r":78,"h":"23","v":0},{"r":78,"h":"25","v":-2},{"r":78,"h":"27","v":-4},
{"r":79,"h":"0","v":0},{"r":79,"h":"0.5","v":2},{"r":79,"h":"1","v":2},{"r":79,"h":"3","v":0},{"r":79,"h":"7","v":0},{"r":79,"h":"9","v":0},{"r":79,"h":"11","v":-3},{"r":79,"h":"13","v":0},{"r":79,"h":"17","v":-2.5},{"r":79,"h":"23","v":-2.5},{"r":79,"h":"25","v":-4.5},{"r":79,"h":"27","v":-4.5},
{"r":80,"h":"0","v":0},{"r":80,"h":"0.5","v":0.3},{"r":80,"h":"1","v":2},{"r":80,"h":"3","v":0},{"r":80,"h":"7","v":0},{"r":80,"h":"9","v":0},{"r":80,"h":"11","v":-3},{"r":80,"h":"13","v":0},{"r":80,"h":"17","v":0.3},{"r":80,"h":"23","v":-2},{"r":80,"h":"25","v":-4.5},{"r":80,"h":"27","v":-4.5},
{"r":81,"h":"0","v":0},{"r":81,"h":"0.5","v":-2},{"r":81,"h":"1","v":-2},{"r":81,"h":"3","v":-2},{"r":81,"h":"7","v":0},{"r":81,"h":"9","v":0},{"r":81,"h":"11","v":0},{"r":81,"h":"13","v":-2},{"r":81,"h":"17","v":-2},{"r":81,"h":"23","v":-2},{"r":81,"h":"25","v":-1.5},{"r":81,"h":"27","v":0.5},
{"r":82,"h":"0","v":0},{"r":82,"h":"0.5","v":-5},{"r":82,"h":"1","v":-2.5},{"r":82,"h":"3","v":0},{"r":82,"h":"7","v":0},{"r":82,"h":"9","v":0},{"r":82,"h":"11","v":0},{"r":82,"h":"13","v":0},{"r":82,"h":"17","v":-2},{"r":82,"h":"23","v":-5},{"r":82,"h":"25","v":-5},{"r":82,"h":"27","v":-2},
{"r":83,"h":"0","v":0},{"r":83,"h":"0.5","v":-6},{"r":83,"h":"1","v":-5},{"r":83,"h":"3","v":2.5},{"r":83,"h":"7","v":0},{"r":83,"h":"9","v":0},{"r":83,"h":"11","v":4},{"r":83,"h":"13","v":4},{"r":83,"h":"17","v":-4.5},{"r":83,"h":"23","v":-4.5},{"r":83,"h":"25","v":-2},{"r":83,"h":"27","v":-5},
{"r":84,"h":"0","v":0},{"r":84,"h":"0.5","v":-6},{"r":84,"h":"1","v":-2},{"r":84,"h":"3","v":5},{"r":84,"h":"7","v":2},{"r":84,"h":"9","v":2},{"r":84,"h":"11","v":4.5},{"r":84,"h":"13","v":2},{"r":84,"h":"17","v":-7},{"r":84,"h":"23","v":-7},{"r":84,"h":"25","v":-5},{"r":84,"h":"27","v":-7},
{"r":85,"h":"0","v":-2},{"r":85,"h":"0.5","v":-2.5},{"r":85,"h":"1","v":-2},{"r":85,"h":"3","v":5},{"r":85,"h":"7","v":0},{"r":85,"h":"9","v":0},{"r":85,"h":"11","v":0},{"r":85,"h":"13","v":-2},{"r":85,"h":"17","v":-7},{"r":85,"h":"23","v":-7},{"r":85,"h":"25","v":-3},{"r":85,"h":"27","v":-3},
{"r":86,"h":"0","v":0},{"r":86,"h":"0.5","v":-13},{"r":86,"h":"1","v":-6},{"r":86,"h":"3","v":2},{"r":86,"h":"7","v":0},{"r":86,"h":"9","v":0},{"r":86,"h":"11","v":0},{"r":86,"h":"13","v":0},{"r":86,"h":"17","v":-4},{"r":86,"h":"23","v":-6},{"r":86,"h":"25","v":-1.5},{"r":86,"h":"27","v":-1.5},
{"r":87,"h":"0","v":0},{"r":87,"h":"0.5","v":-11},{"r":87,"h":"1","v":-9},{"r":87,"h":"3","v":2},{"r":87,"h":"7","v":0},{"r":87,"h":"9","v":0},{"r":87,"h":"11","v":0},{"r":87,"h":"13","v":0},{"r":87,"h":"17","v":-6.5},{"r":87,"h":"23","v":-6.5},{"r":87,"h":"25","v":-3},{"r":87,"h":"27","v":-3.5},
{"r":88,"h":"0","v":0},{"r":88,"h":"0.5","v":-11},{"r":88,"h":"1","v":-9},{"r":88,"h":"3","v":2},{"r":88,"h":"7","v":2},{"r":88,"h":"9","v":2},{"r":88,"h":"11","v":6},{"r":88,"h":"13","v":2.5},{"r":88,"h":"17","v":-9},{"r":88,"h":"23","v":-9},{"r":88,"h":"25","v":-3},{"r":88,"h":"27","v":-7},
{"r":89,"h":"0","v":0},{"r":89,"h":"0.5","v":-11},{"r":89,"h":"1","v":-9},{"r":89,"h":"3","v":2},{"r":89,"h":"7","v":0},{"r":89,"h":"9","v":0},{"r":89,"h":"11","v":2.5},{"r":89,"h":"13","v":0},{"r":89,"h":"17","v":-6},{"r":89,"h":"23","v":-11},{"r":89,"h":"25","v":-3},{"r":89,"h":"27","v":-9},
{"r":90,"h":"0","v":0},{"r":90,"h":"0.5","v":-11},{"r":90,"h":"1","v":-9},{"r":90,"h":"3","v":2},{"r":90,"h":"7","v":0},{"r":90,"h":"9","v":0},{"r":90,"h":"11","v":2.5},{"r":90,"h":"13","v":0},{"r":90,"h":"17","v":-12},{"r":90,"h":"23","v":-11},{"r":90,"h":"25","v":-5},{"r":90,"h":"27","v":-9},
{"r":91,"h":"0","v":0},{"r":91,"h":"0.5","v":-13},{"r":91,"h":"1","v":-8},{"r":91,"h":"3","v":2},{"r":91,"h":"7","v":0},{"r":91,"h":"9","v":0},{"r":91,"h":"11","v":2.5},{"r":91,"h":"13","v":0},{"r":91,"h":"17","v":-9},{"r":91,"h":"23","v":-11},{"r":91,"h":"25","v":-6},{"r":91,"h":"27","v":-6},
{"r":92,"h":"0","v":0},{"r":92,"h":"0.5","v":-13},{"r":92,"h":"1","v":-8},{"r":92,"h":"3","v":2},{"r":92,"h":"7","v":1.5},{"r":92,"h":"9","v":0},{"r":92,"h":"11","v":2.5},{"r":92,"h":"13","v":2.5},{"r":92,"h":"17","v":-12},{"r":92,"h":"23","v":-11},{"r":92,"h":"25","v":-6},{"r":92,"h":"27","v":-6}
]},
"layer":[
{"data":{"name":"key"},"mark":{"type":"rect","strokeWidth":0.4},"encoding":{
"x":{"field":"a","type":"quantitative","scale":{"domain":[-13.2,13.2],"range":[2,61.5],"nice":false,"zero":false},"axis":{"orient":"bottom","offset":-991,"values":[-10,-5,0,5,10],"grid":false,"domain":false,"tickSize":7,"tickColor":"#000","labelExpr":"datum.value%10?'':datum.label","labelFontSize":13,"labelColor":"#222","labelPadding":7,"labelFlush":false,"title":"Value","titleFontSize":12,"titleFontWeight":"normal","titleColor":"#222","titlePadding":5,"zindex":1}},
"x2":{"field":"b"},
"y":{"datum":"key","type":"nominal","scale":{"type":"band","padding":0,"range":[20.7,52]},"axis":{"orient":"left","labels":false,"ticks":false,"domain":false,"title":"Color Key","titleAngle":0,"titleAlign":"left","titleBaseline":"middle","titleX":0,"titleY":9,"titleFontSize":16,"titleFontWeight":"bold","titleColor":"#000"}},
"color":{"field":"v","type":"quantitative","scale":{"domain":[-13,0,13],"range":["#0000ff","#808080","#ffff00"],"interpolate":"rgb"},"legend":null},
"stroke":{"field":"v","type":"quantitative","scale":{"domain":[-13,0,13],"range":["#0000ff","#808080","#ffff00"],"interpolate":"rgb"},"legend":null}}},
{"data":{"name":"keyframe"},"mark":{"type":"rect","fillOpacity":0,"stroke":"#222222","strokeWidth":0.8},"encoding":{
"x":{"field":"a","type":"quantitative","scale":{"domain":[-13.2,13.2],"range":[2,61.5],"nice":false,"zero":false},"axis":null},
"x2":{"field":"b"},
"y":{"datum":"key","type":"nominal","scale":{"type":"band","padding":0,"range":[20.7,52]},"axis":null}}},
{"data":{"name":"hours"},"mark":{"type":"rect","fill":"#b9b9b9"},"encoding":{
"x":{"field":"h","type":"nominal","scale":{"type":"band","padding":0,"domain":["0","0.5","1","3","7","9","11","13","17","23","25","27"],"range":[93.5,462.5]},"axis":null},
"y":{"datum":"band","type":"nominal","scale":{"type":"band","padding":0,"range":[1007,1026]},"axis":null}}},
{"data":{"name":"cells"},"mark":{"type":"rect","stroke":"#ffffff","strokeOpacity":0.07,"strokeWidth":0.6},"encoding":{
"x":{"field":"h","type":"nominal","sort":null,"scale":{"type":"band","padding":0,"domain":["0","0.5","1","3","7","9","11","13","17","23","25","27"],"range":[93.5,462.5]},"axis":{"orient":"bottom","offset":-38,"labelAngle":0,"labelFontSize":17,"labelColor":"#111","labelPadding":4,"domain":false,"ticks":false,"grid":false,"title":"hpi","titleFontSize":17,"titleFontWeight":"normal","titleColor":"#111","titlePadding":-1.5,"zindex":1}},
"y":{"field":"r","type":"ordinal","scale":{"type":"band","padding":0,"range":[20,1005]},"axis":null},
"color":{"field":"v","type":"quantitative","scale":{"domain":[-13,0,13],"range":["#0000ff","#808080","#ffff00"],"interpolate":"rgb"},"legend":null}}},
{"data":{"name":"vertical"},"mark":{"type":"rule","color":"#333333","strokeWidth":1},"encoding":{
"x":{"field":"d","type":"quantitative","scale":{"domain":[0,93],"range":[0,93],"nice":false,"zero":false},"axis":null},
"y":{"field":"a","type":"quantitative","scale":{"domain":[0.5,92.5],"range":[20,1005],"nice":false,"zero":false},"axis":null},
"y2":{"field":"b"}}},
{"data":{"name":"horizontal"},"mark":{"type":"rule","color":"#000000","strokeWidth":1.7},"encoding":{
"x":{"field":"a","type":"quantitative","scale":{"domain":[0,93],"range":[0,93],"nice":false,"zero":false},"axis":null},
"x2":{"field":"b"},
"y":{"field":"r","type":"quantitative","scale":{"domain":[0.5,92.5],"range":[20,1005],"nice":false,"zero":false},"axis":null}}},
{"data":{"name":"genes"},"mark":{"type":"text","align":"left","baseline":"middle","fontSize":12.8,"color":"#000"},"encoding":{
"text":{"field":"t"},
"x":{"field":"c","type":"nominal","scale":{"type":"point","padding":0,"range":[468,468]},"axis":{"orient":"top","labels":false,"ticks":false,"domain":false,"grid":false,"title":"ID (ostta) Predicted genes","titleAnchor":null,"titleAlign":"left","titleBaseline":"middle","titleX":460,"titleY":7,"titleFontSize":16,"titleFontWeight":"bold","titleColor":"#000"}},
"y":{"field":"t","type":"nominal","sort":null,"scale":{"type":"point","padding":0,"range":[23.3,1000]},"axis":null}}}
],
"resolve":{"scale":{"x":"independent","y":"independent","color":"independent","stroke":"independent"},"axis":{"x":"independent","y":"independent"}}}
